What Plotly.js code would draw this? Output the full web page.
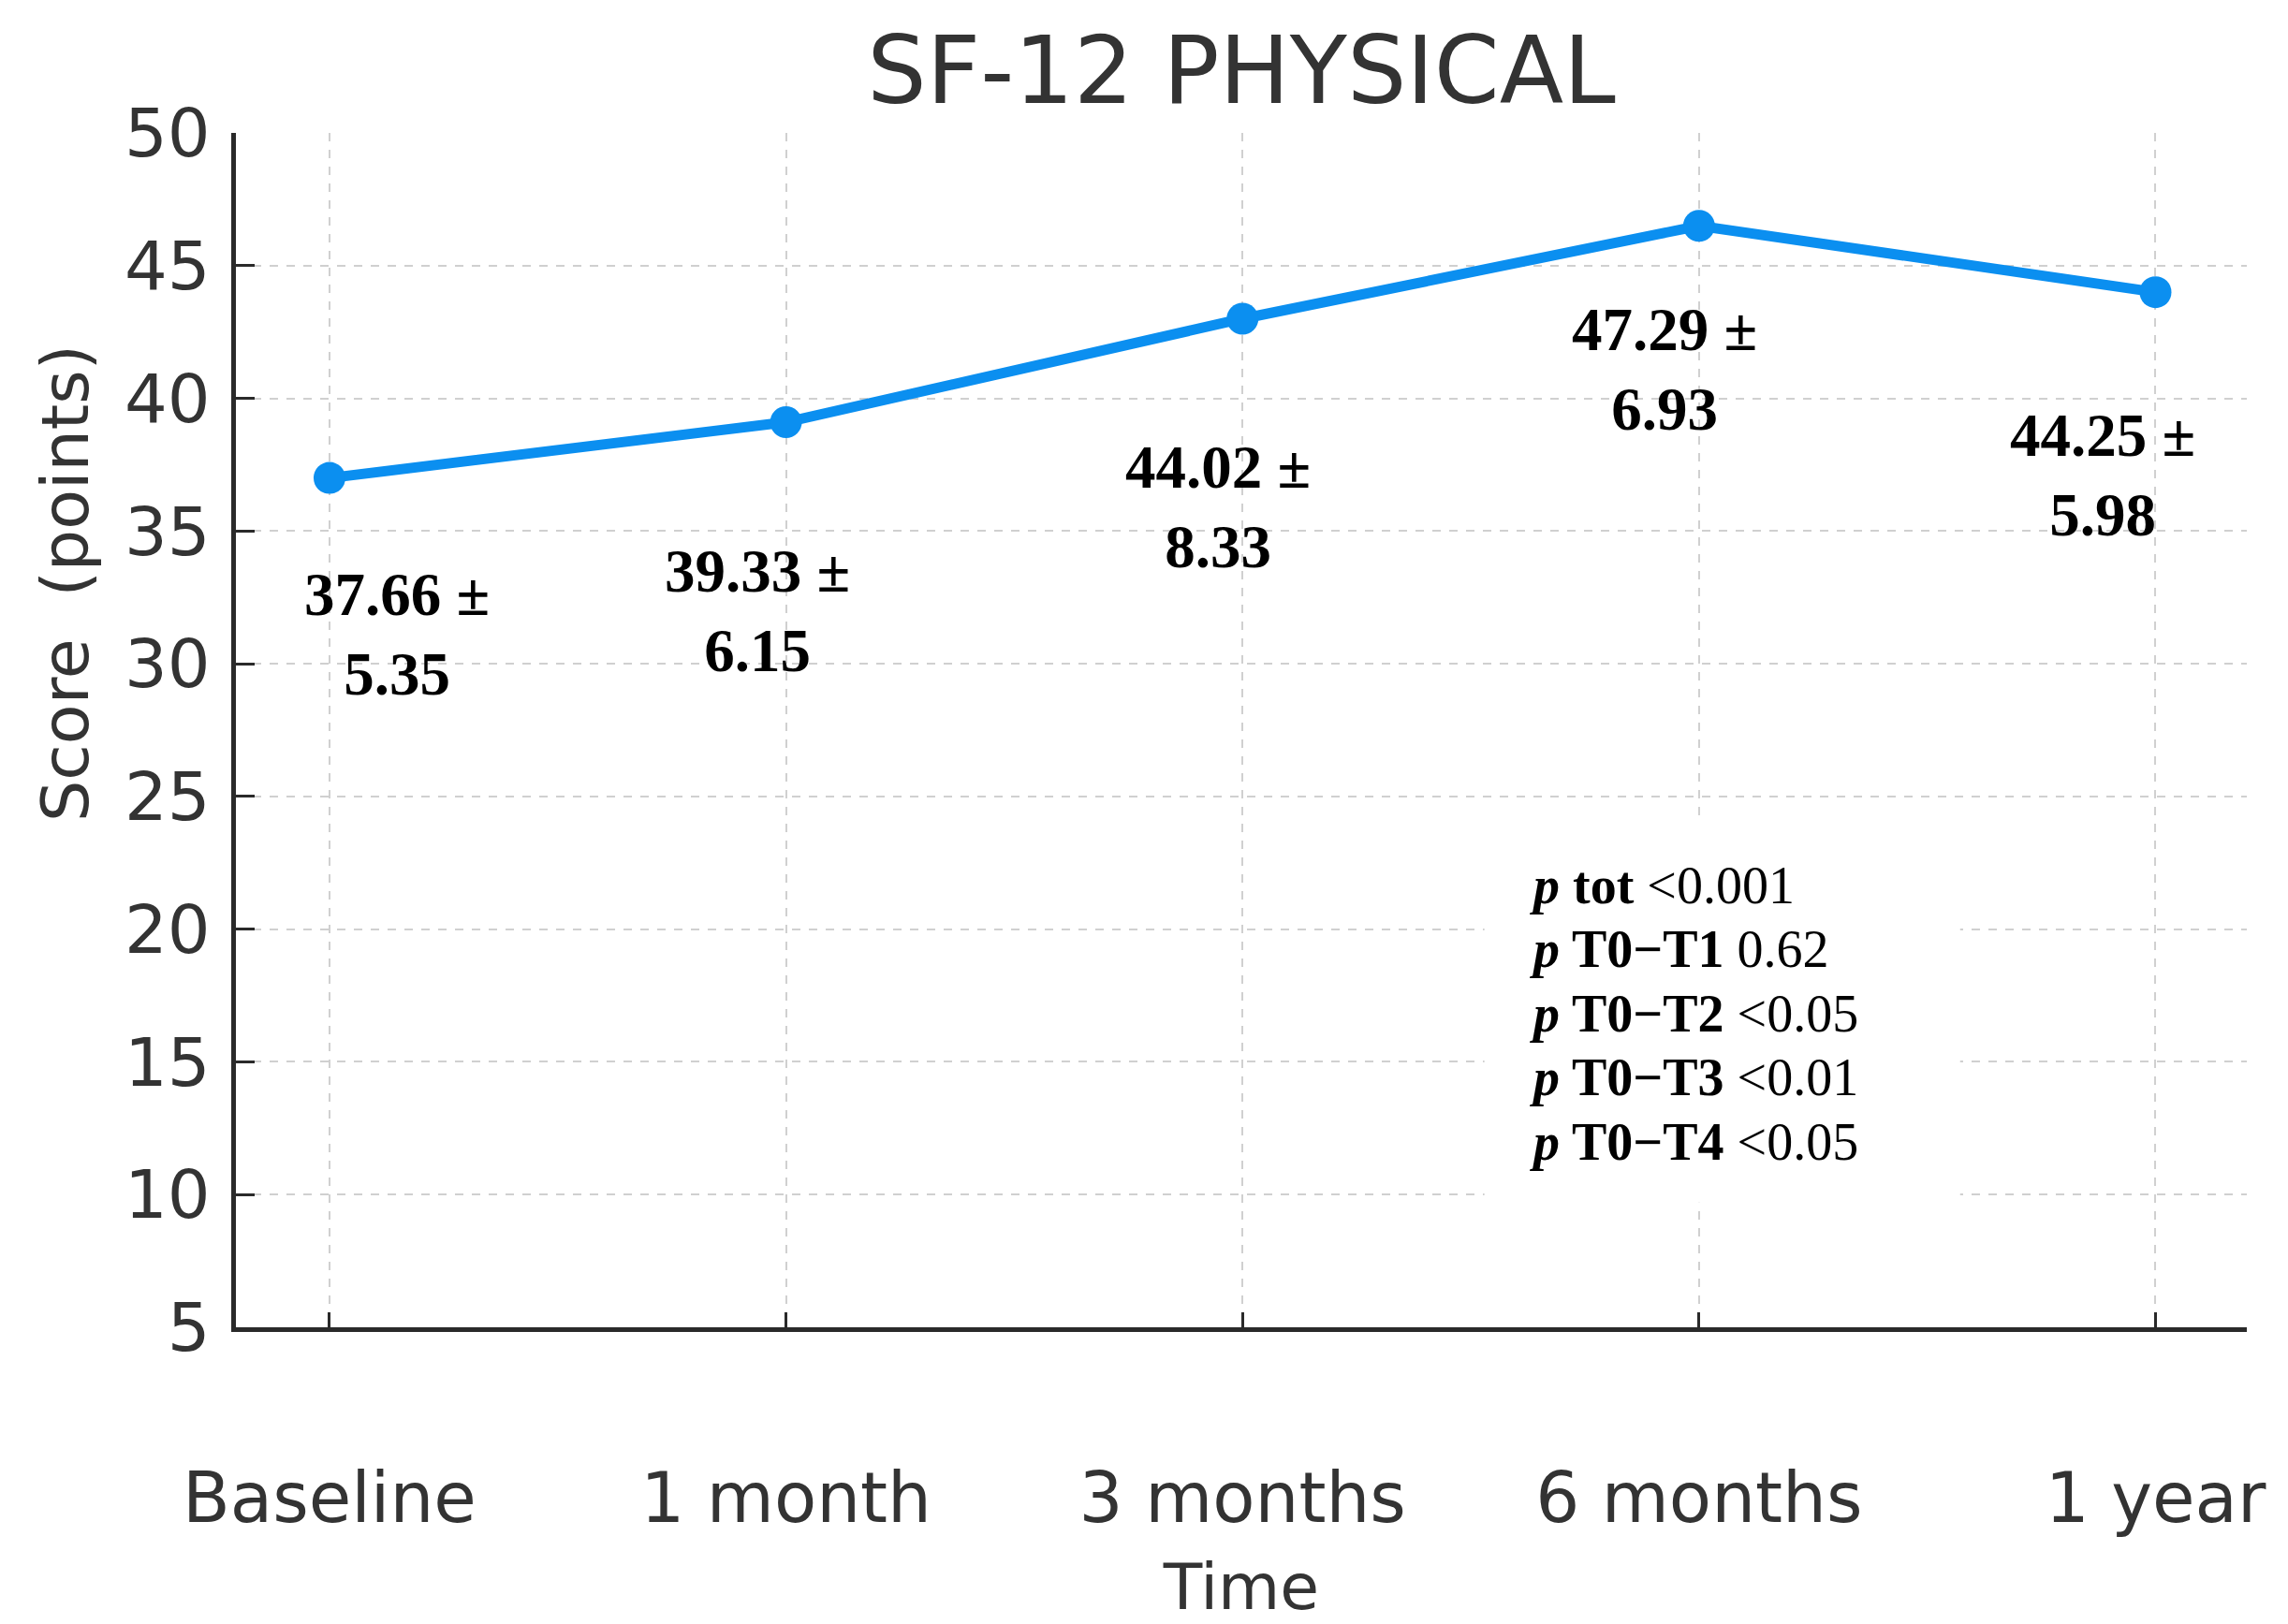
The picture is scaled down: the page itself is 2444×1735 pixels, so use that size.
<!DOCTYPE html>
<html>
<head>
<meta charset="utf-8">
<script src="https://cdn.plot.ly/plotly-3.0.1.min.js"></script>
<style>
html,body{margin:0;padding:0;background:#fff;}
#chart{width:2444px;height:1735px;}
</style>
</head>
<body>
<div id="chart"></div>
<script>
// ---- data ----
const categories = ["Baseline", "1 month", "3 months", "6 months", "1 year"];
const plotted = [37.0, 39.1, 43.0, 46.5, 44.0];
const means = ["37.66", "39.33", "44.02", "47.29", "44.25"];
const sds = ["5.35", "6.15", "8.33", "6.93", "5.98"];
const yTicks = [5, 10, 15, 20, 25, 30, 35, 40, 45, 50];
const pLabels = ["tot", "T0\u2212T1", "T0\u2212T2", "T0\u2212T3", "T0\u2212T4"];
const pValues = ["&lt;0.001", "0.62", "&lt;0.05", "&lt;0.01", "&lt;0.05"];

// ---- layout helpers (offsets of the value labels, in px) ----
const labelXShift = [72, -31, -26, -37, -56];
const labelYShift = [-167, -201, -201, -153, -195];
const pLineStep = 68.6;

const sans = "DejaVu Sans, sans-serif";
const serif = "Liberation Serif, Times New Roman, serif";
const ink = "#333333";

const xIdx = categories.map((c, i) => i);

const trace = {
  x: xIdx,
  y: plotted,
  type: "scatter",
  mode: "lines+markers",
  line: {color: "#0b8ff0", width: 11},
  marker: {color: "#0b8ff0", size: 34},
  hoverinfo: "skip",
  showlegend: false
};

const annotations = categories.map((c, i) => ({
  x: i, y: plotted[i], xref: "x", yref: "y",
  text: "<b>" + means[i] + " \u00b1<br>" + sds[i] + "</b>",
  showarrow: false,
  xanchor: "center", yanchor: "middle",
  xshift: labelXShift[i], yshift: labelYShift[i],
  font: {family: serif, size: 65, color: "#000"},
  align: "center"
}));

pLabels.forEach((l, i) => {
  annotations.push({
    xref: "paper", yref: "paper",
    x: 0.6425, y: 0.3702, yshift: -pLineStep * i,
    xanchor: "left", yanchor: "middle",
    align: "left",
    showarrow: false,
    text: "<b><i>p</i> " + l + "</b> " + pValues[i],
    font: {family: serif, size: 56, color: "#000"}
  });
});

// y-axis title placed as rotated text
annotations.push({
  xref: "paper", yref: "paper",
  x: -0.0847, y: 0.623,
  xanchor: "center", yanchor: "middle",
  showarrow: false, textangle: -90,
  text: "Score  (points)",
  font: {family: sans, size: 70, color: ink}
});

const layout = {
  width: 2444, height: 1735,
  paper_bgcolor: "#fff", plot_bgcolor: "#fff",
  margin: {l: 252, r: 44, t: 142, b: 317},
  title: {
    text: "SF-12 PHYSICAL",
    font: {family: sans, size: 100, color: ink},
    x: 0.5, xref: "paper", xanchor: "center",
    y: 1 - 75 / 1735, yref: "container", yanchor: "middle"
  },
  xaxis: {
    range: [-0.205, 4.2],
    tickmode: "array", tickvals: xIdx, ticktext: categories,
    showline: true, linecolor: "#2a2a2a", linewidth: 5,
    ticks: "inside", ticklen: 16, tickwidth: 3, tickcolor: "#2a2a2a",
    ticklabelstandoff: 114,
    tickfont: {family: sans, size: 74, color: ink},
    showgrid: true, gridcolor: "#d0d0d0", gridwidth: 2, griddash: "dash",
    zeroline: false, fixedrange: true, automargin: false,
    title: {text: "Time", font: {family: sans, size: 68, color: ink}, standoff: 34}
  },
  yaxis: {
    range: [5, 50],
    tickmode: "array", tickvals: yTicks,
    showline: true, linecolor: "#2a2a2a", linewidth: 5,
    ticks: "inside", ticklen: 20, tickwidth: 3, tickcolor: "#2a2a2a",
    ticklabelstandoff: 8,
    tickfont: {family: sans, size: 72, color: ink},
    showgrid: true, gridcolor: "#d0d0d0", gridwidth: 2, griddash: "dash",
    zeroline: false, fixedrange: true, automargin: false
  },
  shapes: [{
    type: "rect", xref: "x", yref: "y",
    x0: 2.53, x1: 3.572, y0: 9.7, y1: 24.0,
    fillcolor: "#ffffff", line: {width: 0}, layer: "above"
  }],
  annotations: annotations
};

Plotly.newPlot("chart", [trace], layout, {staticPlot: true, displayModeBar: false});
</script>
</body>
</html>
